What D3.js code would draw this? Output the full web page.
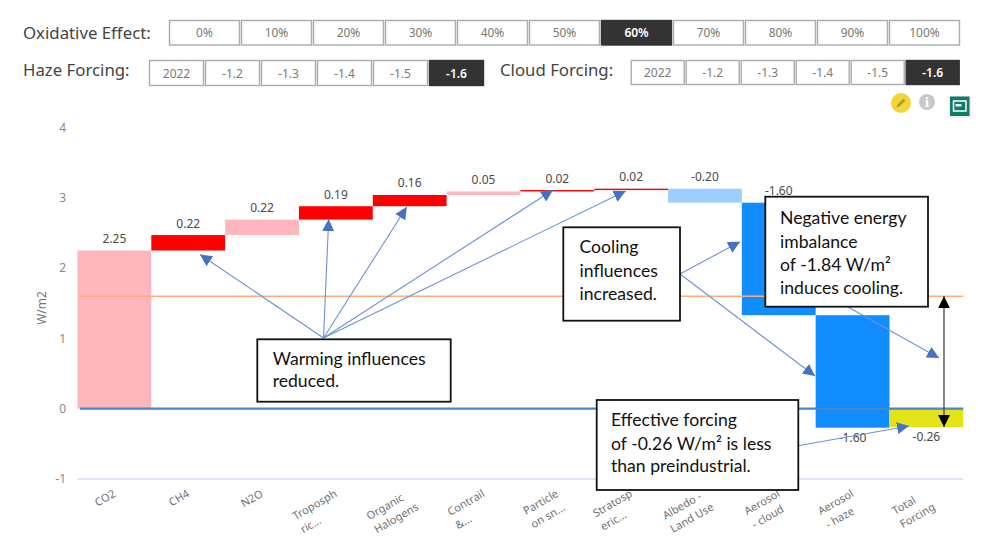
<!DOCTYPE html>
<html><head><meta charset="utf-8">
<script src="https://cdn.jsdelivr.net/npm/d3@7/dist/d3.min.js"></script>
<style>html,body{margin:0;padding:0;background:#fff;overflow:hidden}svg{display:block}</style>
</head><body><svg id="c" width="1007" height="548"></svg>
<script>
// ---- data ----
const categories = ["CO2","CH4","N2O","Tropospheric","Organic Halogens","Contrail","Particle","Stratospheric","Albedo","Aerosol cloud","Aerosol haze","Total"];
const categoryLines = [["CO2"],["CH4"],["N2O"],["Troposph","ric..."],["Organic","Halogens"],["Contrail","&..."],["Particle","on sn..."],["Stratosp","eric..."],["Albedo -","Land Use"],["Aerosol","- cloud"],["Aerosol","- haze"],["Total","Forcing"]];
const values = [2.25,0.22,0.22,0.19,0.16,0.05,0.02,0.02,-0.20,-1.60,-1.60,-0.26];
const barKinds = ["pale","strong","pale","strong","strong","pale","strong","strong","paleCool","cool","cool","total"];
const labelBelow = [false,false,false,false,false,false,false,false,false,false,true,true];
const yTicks = [-1,0,1,2,3,4];
const referenceLevel = 1.6;
const imbalanceLow = -0.26;
const oxidativeOptions = ["0%","10%","20%","30%","40%","50%","60%","70%","80%","90%","100%"];
const forcingOptions = ["2022","-1.2","-1.3","-1.4","-1.5","-1.6"];
const oxidativeSelected = "60%";
const forcingSelected = "-1.6";

// ---- styles / layout ----
const barColor = {pale:"#FFB6BC",strong:"#FF0000",paleCool:"#9FCFFF",cool:"#118DFF",total:"#E3E317"};
const uiFont = "'Noto Sans','Open Sans',sans-serif", noteFont = "Lato,'Open Sans',sans-serif";
const svg = d3.select("#c");
const x = d3.scaleBand().domain(categories).range([77.5,963.3]).padding(0);
const y = d3.scaleLinear().domain([-1,4]).range([479,127.5]);

// slicers
function slicer(opts, selected, x0, step, top, h, fs){
  const g = svg.append("g");
  const s = g.selectAll("g").data(opts).join("g").attr("transform",(d,i)=>`translate(${x0+i*step},${top})`);
  s.append("rect").attr("x",.5).attr("y",.5).attr("width",step-2).attr("height",h)
    .attr("fill",d=>d===selected?"#333":"#fff").attr("stroke",d=>d===selected?"#333":"#ababab").attr("stroke-width",1.4);
  s.append("text").attr("x",(step-1)/2).attr("y",h/2+5).attr("text-anchor","middle")
    .attr("font-family",uiFont).attr("font-size",fs)
    .attr("font-weight",d=>d===selected?600:400)
    .attr("fill",d=>d===selected?"#fff":"#7a7a7a").text(d=>d);
}
const heading = (t,px,py)=>svg.append("text").attr("x",px).attr("y",py).attr("font-family",uiFont)
  .attr("font-size",16.8).attr("fill","#444").text(t);
heading("Oxidative Effect:",23,39);
heading("Haze Forcing:",23,76);
heading("Cloud Forcing:",500,76);
slicer(oxidativeOptions,oxidativeSelected,169,72,20,24.5,12);
slicer(forcingOptions,forcingSelected,149,56,60,25,12);
slicer(forcingOptions,forcingSelected,630.7,55,60,24,12);

// icons
svg.append("circle").attr("cx",901).attr("cy",103).attr("r",10).attr("fill","#F4D536");
svg.append("path").attr("d","M896.5 107.5l1-3 6-6 2 2-6 6z").attr("fill","#b09c30");
svg.append("circle").attr("cx",927).attr("cy",102).attr("r",8).attr("fill","#c8c8c8");
svg.append("text").attr("x",927).attr("y",107).attr("text-anchor","middle").attr("font-family","'DejaVu Serif',serif")
  .attr("font-weight",700).attr("font-size",13).attr("fill","#fff").text("i");
svg.append("rect").attr("x",948.5).attr("y",96).attr("width",23).attr("height",22.5).attr("fill","#000").attr("opacity",.06);
svg.append("rect").attr("x",950).attr("y",96.5).attr("width",19.5).attr("height",19.5).attr("fill","#0E7C66");
svg.append("rect").attr("x",953.5).attr("y",101).attr("width",12.5).attr("height",10).attr("fill","none").attr("stroke","#fff").attr("stroke-width",1.5);
svg.append("rect").attr("x",955.5).attr("y",104).attr("width",6).attr("height",2.5).attr("fill","#fff");

// axes
const yAxis = svg.append("g").attr("transform","translate(66,0)")
  .call(d3.axisLeft(y).tickValues(yTicks).tickSize(0).tickPadding(0).tickFormat(d=>String(d)));
yAxis.select(".domain").remove();
yAxis.selectAll("text").attr("font-family",uiFont).attr("font-size",12).attr("fill","#8a8a8a");
svg.append("text").attr("transform","translate(46,308) rotate(-90)").attr("text-anchor","middle")
  .attr("font-family",uiFont).attr("font-size",12).attr("fill","#777").text("W/m2");

svg.append("line").attr("x1",x.range()[0]).attr("x2",x.range()[1]).attr("y1",y(-1)).attr("y2",y(-1))
  .attr("stroke","#d9dcf2").attr("stroke-width",1.5);

const xAxis = svg.append("g").attr("transform","translate(0,492)")
  .call(d3.axisBottom(x).tickSize(0).tickPadding(0));
xAxis.select(".domain").remove();
xAxis.selectAll(".tick").each(function(d,i){
  const g = d3.select(this);
  const t = g.select("text").text(null).attr("y",0).attr("dy",0).attr("text-anchor","start")
    .attr("font-family",uiFont).attr("font-size",11).attr("fill","#707070");
  const spans = categoryLines[i].map((s,k)=>t.append("tspan").attr("dy",k?"1.4em":"0.35em").text(s));
  const w = d3.max(spans,s=>s.node().getComputedTextLength());
  spans.forEach(s=>s.attr("x",-w));
  t.attr("transform","translate(0,0.5) rotate(-30)");
});

// waterfall
const ends = values.slice(0,-1).reduce((a,v)=>{a.push((a.length?a[a.length-1]:0)+v);return a;},[]);
const bars = values.map((v,i)=>{
  const last = i===values.length-1;
  const start = last?0:(i?ends[i-1]:0);
  return {cat:categories[i],v,kind:barKinds[i],start,end:last?v:ends[i],below:labelBelow[i]};
});
svg.append("g").selectAll("rect").data(bars).join("rect")
  .attr("x",d=>x(d.cat)).attr("width",x.bandwidth())
  .attr("y",d=>y(Math.max(d.start,d.end))).attr("height",d=>Math.abs(y(d.start)-y(d.end)))
  .attr("fill",d=>barColor[d.kind]);

// reference lines
svg.append("line").attr("x1",80).attr("x2",x.range()[1]).attr("y1",y(referenceLevel)).attr("y2",y(referenceLevel))
  .attr("stroke","#FFAB7C").attr("stroke-width",1.6);
svg.append("line").attr("x1",80).attr("x2",x.range()[1]).attr("y1",y(0)).attr("y2",y(0))
  .attr("stroke","#4A86C8").attr("stroke-width",2.2);

// value labels
svg.append("g").selectAll("text").data(bars).join("text")
  .attr("x",d=>x(d.cat)+x.bandwidth()/2)
  .attr("y",d=>d.below?y(Math.min(d.start,d.end))+14.5:y(Math.max(d.start,d.end))-7.5)
  .attr("text-anchor","middle").attr("font-family",uiFont).attr("font-size",12).attr("fill","#4a4a4a")
  .text(d=>d.v.toFixed(2));

// callouts
const defs = svg.append("defs");
function marker(id,color){
  defs.append("marker").attr("id",id).attr("viewBox","0 0 10 10").attr("refX",10).attr("refY",5)
    .attr("markerWidth",12).attr("markerHeight",12).attr("markerUnits","userSpaceOnUse").attr("orient","auto-start-reverse")
    .append("path").attr("d","M0 0L10 5L0 10z").attr("fill",color);
}
marker("blueHead","#4472C4"); marker("blackHead","#000");
const arrows = [
  [323.5,338,200,254.5],[323.5,338,328.7,219],[323.5,338,406.7,207],[323.5,338,553,190],[323.5,338,625.7,191],
  [680,274,740,241.7],[680,274,815,376],[848,307,939,358],[798,445.7,909,426]
];
svg.append("g").selectAll("line").data(arrows).join("line")
  .attr("x1",d=>d[0]).attr("y1",d=>d[1]).attr("x2",d=>d[2]).attr("y2",d=>d[3])
  .attr("stroke","#6F92D6").attr("stroke-width",1.1).attr("marker-end","url(#blueHead)");
svg.append("line").attr("x1",944).attr("x2",944).attr("y1",y(referenceLevel)).attr("y2",y(imbalanceLow))
  .attr("stroke","#444").attr("stroke-width",1.3)
  .attr("marker-start","url(#blackHead)").attr("marker-end","url(#blackHead)");

const notes = [
  {box:[257.3,339.3,193.4,62.4],tx:272.7,base:[365,387],lines:["Warming influences","reduced."]},
  {box:[563.3,227.3,116.7,93.4],tx:579.5,base:[253,277,300],lines:["Cooling","influences","increased."]},
  {box:[765.3,196.7,162.7,110],tx:780,base:[224,248,271,294],lines:["Negative energy","imbalance","of -1.84 W/m²","induces cooling."]},
  {box:[596.7,400,201.6,90],tx:611,base:[426,449.5,472],lines:["Effective forcing","of -0.26 W/m² is less","than preindustrial."]}
];
const ng = svg.append("g").selectAll("g").data(notes).join("g");
ng.append("rect").attr("x",d=>d.box[0]).attr("y",d=>d.box[1]).attr("width",d=>d.box[2]).attr("height",d=>d.box[3])
  .attr("fill","#fff").attr("stroke","#111").attr("stroke-width",1.8);
ng.each(function(d){
  d3.select(this).selectAll("text").data(d.lines).join("text")
    .attr("x",d.tx).attr("y",(l,i)=>d.base[i]).attr("font-family",noteFont).attr("font-size",17.6)
    .attr("fill","#111").text(l=>l);
});
</script></body></html>
